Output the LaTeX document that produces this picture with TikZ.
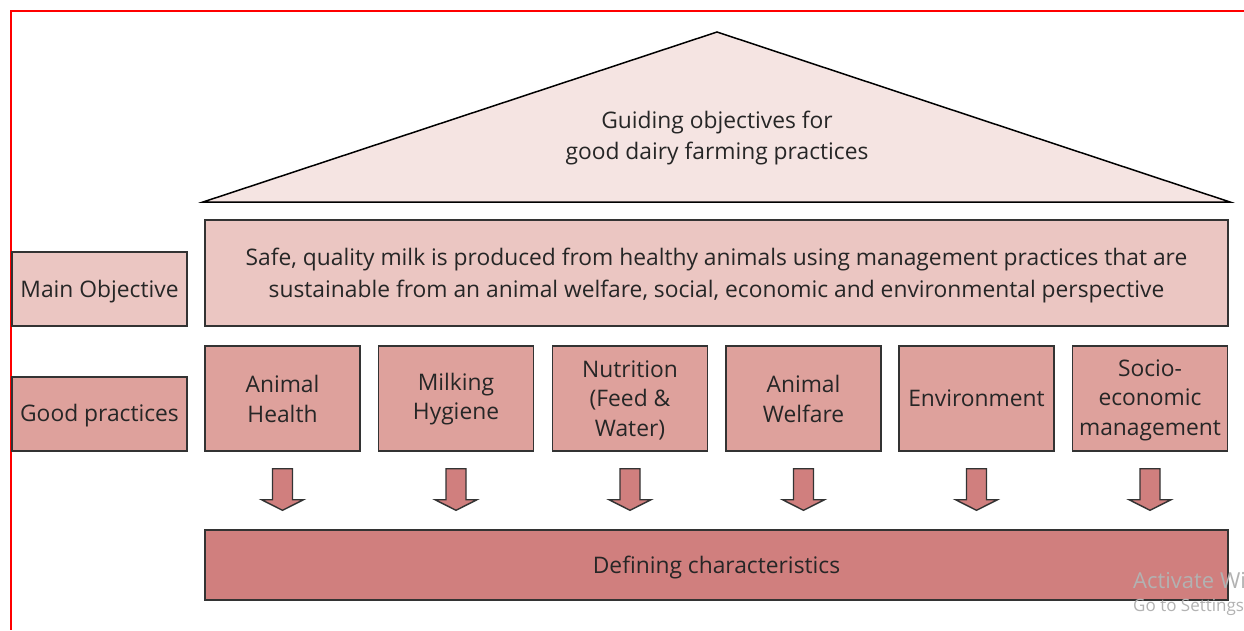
\documentclass[tikz,border=0pt]{standalone}
\usepackage{fontspec}
\setmainfont{Open Sans}
\usetikzlibrary{calc}
\definecolor{roofpink}{HTML}{F5E4E2}
\definecolor{lightrose}{HTML}{EBC6C2}
\definecolor{midrose}{HTML}{DEA19C}
\definecolor{deeprose}{HTML}{D07F7E}
\definecolor{edge}{HTML}{333333}
\begin{document}
\begin{tikzpicture}[x=1pt,y=-1pt,
  box/.style={draw=edge, line width=1.4pt, rectangle, inner sep=0pt},
  lightbox/.style={box, fill=lightrose},
  midbox/.style={box, fill=midrose},
  txt/.style={inner sep=0pt, align=center, text=black!85, font=\fontsize{22.8}{31.5}\selectfont},
  practxt/.style={txt, font=\fontsize{22.8}{29.5}\selectfont},
  practice/.style={midbox, minimum width=155pt, minimum height=105pt},
  blockarrow/.style={draw=edge, line width=1.4pt, fill=deeprose, line join=miter},
  notice/.style={anchor=west, text=black!30, inner sep=0pt}]
\useasboundingbox (0,0) rectangle (1244,630);
\fill[white] (0,0) rectangle (1244,630);
% screen frame
\draw[red, line width=2pt] (1244,11) -- (11,11) -- (11,630);

% roof
\draw[black, line width=1.5pt, fill=roofpink] (203,202) -- (717,32) -- (1230,202) -- cycle;
\node[txt] (roof) at (717,138)
  {Guiding objectives for\\good dairy farming practices};

% main objective
\node[lightbox, minimum width=175pt, minimum height=74pt] (mainlbl) at (99.5,289) {};
\node[txt] (mainlbltxt) at ($(mainlbl)+(0,2.5)$) {Main Objective};
\node[lightbox, minimum width=1023pt, minimum height=106pt] (main) at (716.5,273) {};
\node[txt] (maintxt) at ($(main)+(0,2.5)$)
  {Safe, quality milk is produced from healthy animals using management practices that are\\
   sustainable from an animal welfare, social, economic and environmental perspective};

% good practices
\node[midbox, minimum width=175pt, minimum height=74pt] (goodlbl) at (99.5,414) {};
\node[txt] (goodlbltxt) at ($(goodlbl)+(0,1.5)$) {Good practices};
\node[practice] (b1) at (282.5,398.5) {};
\node[practice] (b2) at (456,398.5) {};
\node[practice] (b3) at (630,398.5) {};
\node[practice] (b4) at (803.5,398.5) {};
\node[practice] (b5) at (976.5,398.5) {};
\node[practice] (b6) at (1150,398.5) {};
\node[practxt] (t1) at ($(b1)+(0,0.5)$) {Animal\\Health};
\node[practxt] (t2) at ($(b2)+(0,0.5)$) {Milking\\Hygiene};
\node[practxt] (t3) at ($(b3)+(0,1.5)$) {Nutrition\\(Feed \&\\Water)};
\node[practxt] (t4) at ($(b4)+(0,0.5)$) {Animal\\Welfare};
\node[practxt] (t5) at ($(b5)+(0,0)$) {Environment};
\node[practxt] (t6) at ($(b6)+(0,1.5)$) {Socio-\\economic\\management};

% defining characteristics
\node[box, fill=deeprose, minimum width=1023pt, minimum height=70pt] (def) at (716.5,565) {};
\node[txt] (deftxt) at ($(def)+(0,3)$) {Defining characteristics};

% block arrows from each practice down to the characteristics bar
\foreach \i in {1,...,6}{
  \draw[blockarrow] ($(b\i.south)+(-10,17)$) -- ($(b\i.south)+(10,17)$)
    -- ($(b\i.south)+(10,48)$) -- ($(b\i.south)+(21,48)$)
    -- ($(def.north)!(b\i.south)!(def.north east)+(0,-19)$)
    -- ($(b\i.south)+(-21,48)$) -- ($(b\i.south)+(-10,48)$) -- cycle;
}

% system notice in the corner
\begin{scope}
\clip (0,0) rectangle (1244,630);
\node[notice, font=\fontsize{22}{22}\selectfont] (act) at (1133,580) {Activate Windows};
\node[notice, font=\fontsize{17}{17}\selectfont] (go) at (1133,607) {Go to Settings to activate Windows.};
\end{scope}
\end{tikzpicture}
\end{document}
